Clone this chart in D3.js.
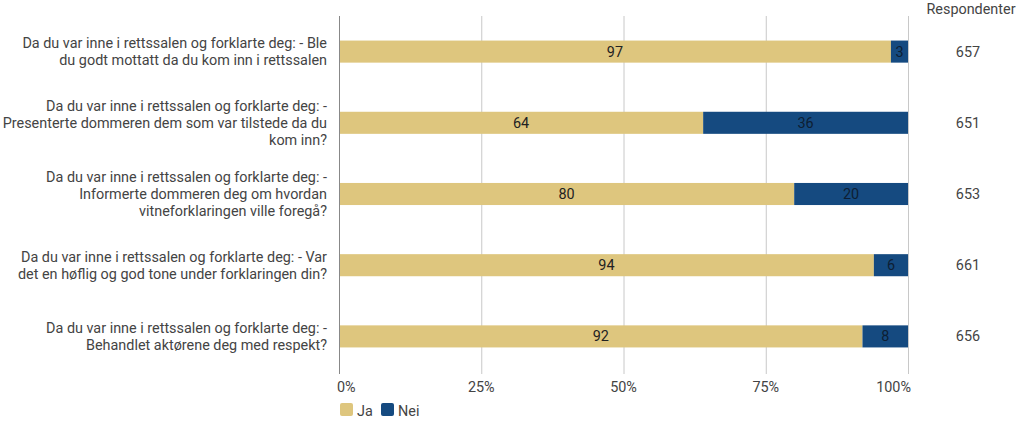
<!DOCTYPE html>
<meta charset="utf-8">
<style>
  body { margin: 0; background: #fff; }
  svg { font-family: Roboto, sans-serif; }
  .grid line { stroke: #c8c8c8; stroke-width: 1; }
  .cat text, .resp text, .tick text, .legend text { fill: #444; font-size: 14.4px; }
</style>
<svg width="1024" height="424"></svg>
<script src="https://d3js.org/d3.v7.min.js"></script>
<script>
// questions, wrapped as in the reference
const questions = [
  ["Da du var inne i rettssalen og forklarte deg: - Ble", "du godt mottatt da du kom inn i rettssalen"],
  ["Da du var inne i rettssalen og forklarte deg: -", "Presenterte dommeren dem som var tilstede da du", "kom inn?"],
  ["Da du var inne i rettssalen og forklarte deg: -", "Informerte dommeren deg om hvordan", "vitneforklaringen ville foregå?"],
  ["Da du var inne i rettssalen og forklarte deg: - Var", "det en høflig og god tone under forklaringen din?"],
  ["Da du var inne i rettssalen og forklarte deg: -", "Behandlet aktørene deg med respekt?"]
]
const ja = [97, 64, 80, 94, 92]
const nei = [3, 36, 20, 6, 8]
const respondents = [657, 651, 653, 661, 656]
const ticks = [0, 25, 50, 75, 100]
const series = ["Ja", "Nei"]
const colors = ["#dec67e", "#154a80"]

const svg = d3.select("svg")
const x = d3.scaleLinear().domain([0, 100]).range([339, 908])
const y = d3.scaleBand().domain(d3.range(questions.length)).range([16, 372]).paddingInner(0.69).paddingOuter(0.345)

// gridlines
const grid = svg.append("g").attr("class", "grid")
grid.selectAll("line").data(ticks.slice(1)).enter().append("line")
  .attr("x1", d => x(d) + 0.5).attr("x2", d => x(d) + 0.5)
  .attr("y1", 16).attr("y2", 374)

// bars
const rows = questions.map((q, i) => ({ i, vals: [ja[i], nei[i]] }))
const segs = []
rows.forEach(r => {
  let acc = 0
  r.vals.forEach((v, k) => { segs.push({ i: r.i, k, v, x0: acc, x1: acc + v }); acc += v })
})
svg.append("g").selectAll("rect").data(segs).enter().append("rect")
  .attr("x", d => x(d.x0)).attr("width", d => x(d.x1) - x(d.x0))
  .attr("y", d => y(d.i)).attr("height", y.bandwidth())
  .attr("fill", d => colors[d.k])
svg.append("g").selectAll("text").data(segs).enter().append("text")
  .attr("x", d => (x(d.x0) + x(d.x1)) / 2).attr("y", d => y(d.i) + y.bandwidth() / 2)
  .attr("dy", "0.35em").attr("text-anchor", "middle")
  .attr("font-size", 14.4).attr("fill", d => d.k === 0 ? "#222" : "#0d1e33")
  .text(d => d.v)

// y axis line
svg.append("line").attr("x1", 339.5).attr("x2", 339.5).attr("y1", 16).attr("y2", 374)
  .attr("stroke", "#888")

// x tick labels
const tk = svg.append("g").attr("class", "tick")
tk.selectAll("text").data(ticks).enter().append("text")
  .attr("x", d => x(d)).attr("y", 392)
  .attr("text-anchor", (d, i) => i === 0 ? "start" : i === ticks.length - 1 ? "end" : "middle")
  .attr("dx", (d, i) => i === 0 ? -2 : i === ticks.length - 1 ? 3 : 0)
  .text(d => d + "%")

// category labels
const lh = 17
const cat = svg.append("g").attr("class", "cat")
questions.forEach((q, i) => {
  const cy = y(i) + y.bandwidth() / 2
  const t = cat.append("text").attr("text-anchor", "end")
  q.forEach((line, j) => {
    t.append("tspan").attr("x", 327)
      .attr("y", cy + (j - (q.length - 1) / 2) * lh).attr("dy", "0.35em").text(line)
  })
})

// respondents column
const resp = svg.append("g").attr("class", "resp")
resp.append("text").attr("x", 971).attr("y", 14).attr("text-anchor", "middle").text("Respondenter")
resp.selectAll("text.n").data(respondents).enter().append("text").attr("class", "n")
  .attr("x", 968).attr("y", (d, i) => y(i) + y.bandwidth() / 2).attr("dy", "0.35em")
  .attr("text-anchor", "middle").text(d => d)

// legend
const lg = svg.append("g").attr("class", "legend")
const lx = [340, 381]
series.forEach((s, i) => {
  lg.append("rect").attr("x", lx[i]).attr("y", 403).attr("width", 13).attr("height", 13)
    .attr("rx", 2).attr("fill", colors[i])
  lg.append("text").attr("x", lx[i] + 17).attr("y", 411).attr("dy", "0.35em").text(s)
})
</script>
